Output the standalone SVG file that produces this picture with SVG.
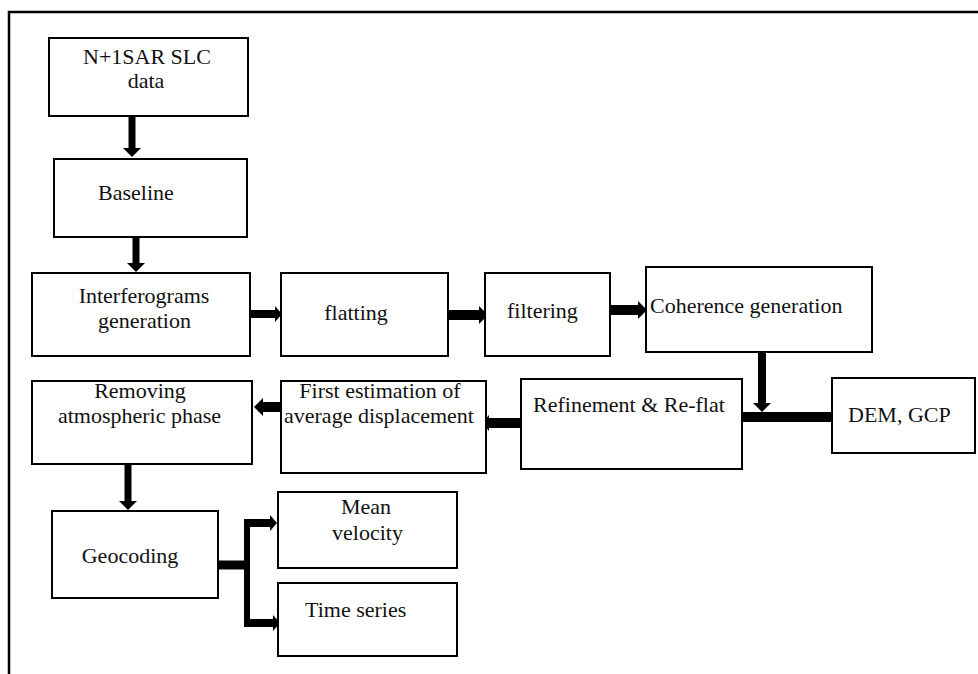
<svg xmlns="http://www.w3.org/2000/svg" width="978" height="674" viewBox="0 0 978 674">
<style>
.box{fill:#fff;stroke:#000;stroke-width:2}
.t{font-family:"Liberation Serif","Times New Roman",serif;font-size:22px;fill:#111}
.m{text-anchor:middle}
.c{fill:none;stroke:#000;stroke-linecap:butt}
</style>
<defs>
<marker id="ah" markerUnits="userSpaceOnUse" markerWidth="10" markerHeight="20" refX="0" refY="9" orient="auto" viewBox="0 0 10 18">
<path d="M0,0 L9,9 L0,18 z" fill="#000"/>
</marker>
<marker id="ahs" markerUnits="userSpaceOnUse" markerWidth="8" markerHeight="16" refX="0" refY="8" orient="auto" viewBox="0 0 8 16">
<path d="M0,0 L7,8 L0,16 z" fill="#000"/>
</marker>
</defs>
<rect width="978" height="674" fill="#fff"/>
<g id="frame">
<path d="M9,674 V12 H978" fill="none" stroke="#000" stroke-width="2.5"/>
</g>
<g id="connectors">
<line class="c" x1="132" y1="117" x2="132" y2="148" stroke-width="7" marker-end="url(#ah)"/>
<line class="c" x1="136" y1="238" x2="136" y2="263" stroke-width="7" marker-end="url(#ah)"/>
<line class="c" x1="251" y1="314" x2="275" y2="314" stroke-width="8" marker-end="url(#ahs)"/>
<line class="c" x1="449" y1="315" x2="479" y2="315" stroke-width="10" marker-end="url(#ah)"/>
<line class="c" x1="611" y1="310" x2="638" y2="310" stroke-width="10" marker-end="url(#ah)"/>
<line class="c" x1="762" y1="353" x2="762" y2="403" stroke-width="8" marker-end="url(#ah)"/>
<line class="c" x1="832" y1="417" x2="743" y2="417" stroke-width="10" marker-end="url(#ahs)"/>
<line class="c" x1="521" y1="423" x2="489" y2="423" stroke-width="10" marker-end="url(#ahs)"/>
<line class="c" x1="281" y1="407" x2="263" y2="407" stroke-width="10" marker-end="url(#ah)"/>
<line class="c" x1="128" y1="465" x2="128" y2="501" stroke-width="7" marker-end="url(#ah)"/>
<line class="c" x1="218" y1="565" x2="250" y2="565" stroke-width="9"/>
<line class="c" x1="247" y1="519" x2="247" y2="627" stroke-width="6"/>
<line class="c" x1="244" y1="523" x2="270" y2="523" stroke-width="8" marker-end="url(#ahs)"/>
<line class="c" x1="244" y1="623" x2="273" y2="623" stroke-width="8" marker-end="url(#ahs)"/>
</g>
<g id="n-slc">
<rect class="box" x="49" y="38" width="199" height="78"/>
<text class="t m" x="147" y="64">N+1SAR SLC</text>
<text class="t m" x="146" y="88">data</text>
</g>
<g id="n-baseline">
<rect class="box" x="54" y="159" width="193" height="78"/>
<text class="t" x="98" y="200">Baseline</text>
</g>
<g id="n-interferograms">
<rect class="box" x="32" y="273" width="218" height="83"/>
<text class="t m" x="144" y="303">Interferograms</text>
<text class="t m" x="144.5" y="328">generation</text>
</g>
<g id="n-flatting">
<rect class="box" x="281" y="273" width="167" height="83"/>
<text class="t m" x="356" y="320">flatting</text>
</g>
<g id="n-filtering">
<rect class="box" x="485" y="273" width="125" height="83"/>
<text class="t" x="507" y="318">filtering</text>
</g>
<g id="n-coherence">
<rect class="box" x="646" y="267" width="226" height="85"/>
<text class="t" x="650" y="313">Coherence generation</text>
</g>
<g id="n-dem">
<rect class="box" x="832" y="378" width="143" height="75"/>
<text class="t" x="848" y="422">DEM, GCP</text>
</g>
<g id="n-refinement">
<rect class="box" x="521" y="379" width="221" height="90"/>
<text class="t" x="533" y="412">Refinement &amp; Re-flat</text>
</g>
<g id="n-first">
<rect class="box" x="281" y="381" width="205" height="92"/>
<text class="t m" x="380" y="398">First estimation of</text>
<text class="t m" x="379" y="423">average displacement</text>
</g>
<g id="n-removing">
<rect class="box" x="32" y="381" width="220" height="83"/>
<text class="t m" x="140" y="398">Removing</text>
<text class="t m" x="139.5" y="423">atmospheric phase</text>
</g>
<g id="n-geocoding">
<rect class="box" x="52" y="511" width="166" height="87"/>
<text class="t m" x="130" y="563">Geocoding</text>
</g>
<g id="n-mean">
<rect class="box" x="278" y="492" width="179" height="76"/>
<text class="t m" x="366" y="514">Mean</text>
<text class="t m" x="367.5" y="540">velocity</text>
</g>
<g id="n-time">
<rect class="box" x="278" y="583" width="179" height="73"/>
<text class="t" x="305" y="617">Time series</text>
</g>
</svg>
